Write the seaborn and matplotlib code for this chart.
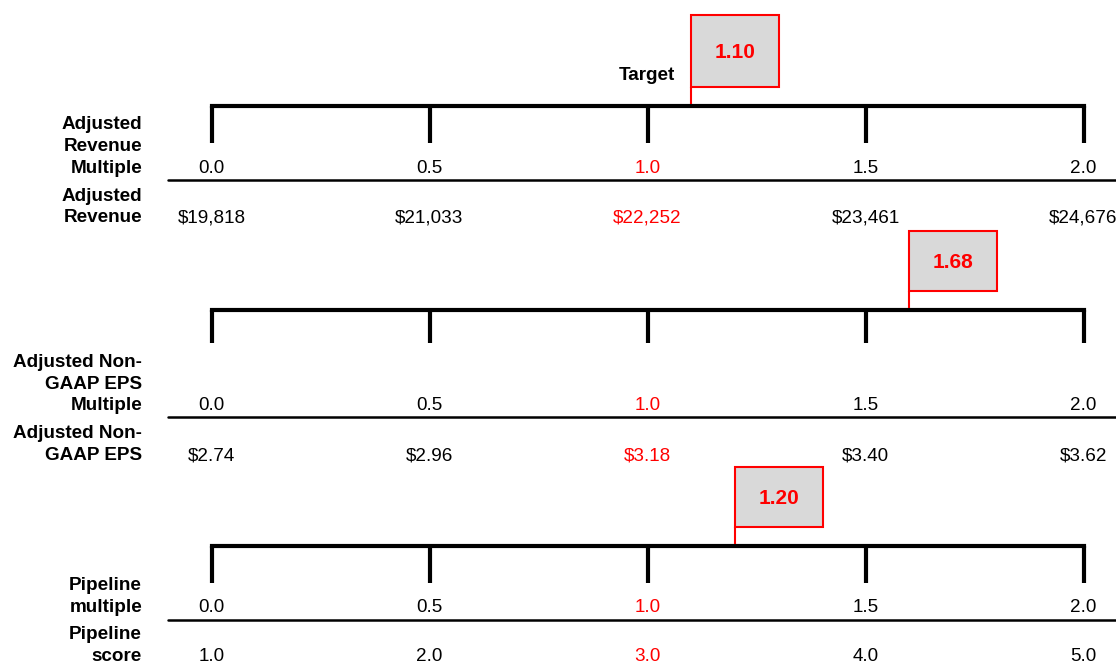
import matplotlib
matplotlib.use("Agg")
import matplotlib.pyplot as plt
from matplotlib.patches import Rectangle
import seaborn as sns

# ---------------- data ----------------
multiples = [0.0, 0.5, 1.0, 1.5, 2.0]
multiple_labels = ["0.0", "0.5", "1.0", "1.5", "2.0"]
revenue_labels = ["$19,818", "$21,033", "$22,252", "$23,461", "$24,676"]
eps_labels = ["$2.74", "$2.96", "$3.18", "$3.40", "$3.62"]
pipeline_labels = ["1.0", "2.0", "3.0", "4.0", "5.0"]
target_multiple = 1.0

row1_titles = [["Adjusted", "Revenue", "Multiple"],
               ["Adjusted Non-", "GAAP EPS", "Multiple"],
               ["Pipeline", "multiple"]]
row2_titles = [["Adjusted", "Revenue"],
               ["Adjusted Non-", "GAAP EPS"],
               ["Pipeline", "score"]]
row2_values = [revenue_labels, eps_labels, pipeline_labels]

marker_values = ["1.10", "1.68", "1.20"]
marker_positions = [1.10, 1.60, 1.20]

# ---------------- style ----------------
sns.set_theme(style="white")
plt.rcParams["font.family"] = ["Liberation Sans", "DejaVu Sans"]

W, H, DPI = 1116, 663, 100
fig = plt.figure(figsize=(W / DPI, H / DPI), dpi=DPI)
ax = fig.add_axes([0, 0, 1, 1])
PX = 436.0  # pixels per unit of multiple
X0 = 211.5  # pixel of 0.0
ax.set_xlim(-X0 / PX, (W - X0) / PX)
ax.set_ylim(H, 0)
ax.axis("off")

RED = "#FF0000"
BLACK = "#000000"
FS = 13.6

# per-panel layout (pixel rows)
line_y = [105.5, 310, 546]
tick_end = [143, 343, 583]
row1_base = [173, 410.5, 612]
sep_y = [180, 417, 619.5]
row2_base = [222.5, 460, 661]
box_top = [15, 231, 467]
LINE_GAP = 21.8
title_x = (142 - X0) / PX
sep_x0 = (168 - X0) / PX
box_w = 88 / PX

for i in range(3):
    ly = line_y[i]
    # main scale line
    ax.plot([multiples[0], multiples[-1]], [ly, ly], color=BLACK, lw=3.0,
            solid_capstyle="projecting")
    # ticks
    ax.vlines(multiples, ly, tick_end[i], color=BLACK, lw=3.0)
    # separator line
    ax.plot([sep_x0, ax.get_xlim()[1]], [sep_y[i], sep_y[i]], color=BLACK, lw=1.8)
    # tick label rows
    for m, lab1, lab2 in zip(multiples, multiple_labels, row2_values[i]):
        c = RED if m == target_multiple else BLACK
        ax.text(m, row1_base[i], lab1, ha="center", va="baseline", fontsize=FS, color=c)
        ax.text(m, row2_base[i], lab2, ha="center", va="baseline", fontsize=FS, color=c)
    # row titles
    for titles, base in ((row1_titles[i], row1_base[i]), (row2_titles[i], row2_base[i])):
        n = len(titles)
        for k, t in enumerate(titles):
            ax.text(title_x, base - (n - 1 - k) * LINE_GAP, t, ha="right", va="baseline",
                    fontsize=FS, fontweight="bold", color=BLACK)
    # marker box
    pos = marker_positions[i]
    bt = box_top[i]
    bh = 72 if i == 0 else 60
    bb = bt + bh
    ax.plot([pos, pos], [bb, ly - 2], color=RED, lw=1.5, solid_capstyle="butt")
    ax.add_patch(Rectangle((pos, bt), box_w, bh, facecolor="#D9D9D9", edgecolor=RED, lw=1.5))
    ax.text(pos + box_w / 2, bt + bh / 2, marker_values[i], ha="center", va="center_baseline",
            fontsize=15, fontweight="bold", color=RED)

ax.text(target_multiple - 0.002, 79.5, "Target", ha="center", va="baseline",
        fontsize=13.6, fontweight="bold", color=BLACK)

fig.savefig("out.png", dpi=DPI, facecolor="white")
